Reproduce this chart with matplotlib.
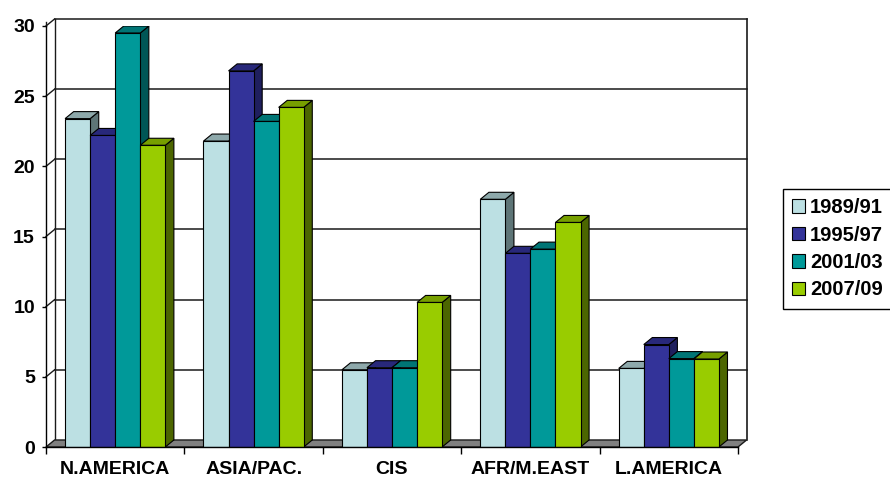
import matplotlib
matplotlib.use("Agg")
import matplotlib.pyplot as plt
from matplotlib.patches import Polygon, Patch
import numpy as np

plt.rcParams["font.family"] = ["Liberation Sans", "DejaVu Sans"]
plt.rcParams["font.weight"] = "bold"

regions = ["N.AMERICA", "ASIA/PAC.", "CIS", "AFR/M.EAST", "L.AMERICA"]
periods = ["1989/91", "1995/97", "2001/03", "2007/09"]
v_8991 = [23.4, 21.8, 5.5, 17.65, 5.6]
v_9597 = [22.2, 26.8, 5.65, 13.8, 7.3]
v_0103 = [29.5, 23.2, 5.65, 14.1, 6.3]
v_0709 = [21.5, 24.2, 10.3, 16.0, 6.27]
yticks = [0, 5, 10, 15, 20, 25, 30]

# front / side / top shades for each series
FRONT = ["#bce0e3", "#333399", "#009999", "#99cc00"]
SIDE = ["#5e7577", "#1f1f5e", "#005656", "#4c6600"]
TOP = ["#8ea9ab", "#28287a", "#007575", "#779f00"]

W = 0.181          # bar width (category units)
DX, DY = 0.062, 0.5  # depth offset in data units

fig = plt.figure(figsize=(8.9, 4.79), dpi=100)
ax = fig.add_axes([46 / 890, 32 / 479, 692 / 890, 421 / 479])
ax.set_xlim(-0.5, 4.5)
ax.set_ylim(0, 30)
for s in ["top", "right"]:
    ax.spines[s].set_visible(False)
for s in ["left", "bottom"]:
    ax.spines[s].set_linewidth(1.0)
    ax.spines[s].set_zorder(6)

LINE = "#1a1a1a"
x0, x1 = -0.5, 4.5
# back wall frame + gridlines, side-wall diagonals
for v in yticks[1:]:
    ax.plot([x0 + DX, x1 + DX], [v + DY, v + DY], color=LINE, lw=1.1, zorder=0.5, clip_on=False)
    ax.plot([x0, x0 + DX], [v, v + DY], color=LINE, lw=1.0, zorder=0.5, clip_on=False)
ax.plot([x0 + DX, x0 + DX], [DY, 30 + DY], color=LINE, lw=1.0, zorder=0.5, clip_on=False)
ax.plot([x1 + DX, x1 + DX], [DY, 30 + DY], color=LINE, lw=1.2, zorder=0.5, clip_on=False)
ax.plot([x0, x0], [30, 30.25], color=LINE, lw=1.0, clip_on=False)

# floor
ax.add_patch(Polygon([(x0, 0), (x1, 0), (x1 + DX, DY), (x0 + DX, DY)], closed=True,
                     facecolor="#808080", edgecolor=LINE, lw=1.0, zorder=1, clip_on=False))

series = [v_8991, v_9597, v_0103, v_0709]
x = np.arange(len(regions))
for i in range(len(regions)):
    for j, vals in enumerate(series):
        h = vals[i]
        xl = x[i] + (j - 2) * W
        xr = xl + W
        z = 2 + i * 0.1 + j * 0.02
        ax.add_patch(Polygon([(xr, 0), (xr + DX, DY), (xr + DX, h + DY), (xr, h)], closed=True,
                             facecolor=SIDE[j], edgecolor="black", lw=0.8, zorder=z))
        ax.add_patch(Polygon([(xl, h), (xl + DX, h + DY), (xr + DX, h + DY), (xr, h)], closed=True,
                             facecolor=TOP[j], edgecolor="black", lw=0.8, zorder=z))
        ax.bar(xl, h, width=W, align="edge", color=FRONT[j], edgecolor="black", lw=0.8,
               zorder=z + 0.01)

ax.set_yticks(yticks)
ax.set_yticklabels([str(t) for t in yticks], fontsize=14, fontweight="bold")
ax.tick_params(axis="y", length=3, width=1, pad=5)
ax.set_xticks(x)
ax.set_xticklabels(regions, fontsize=14, fontweight="bold")
ax.set_xticks(np.arange(-0.5, 5, 1), minor=True)
ax.tick_params(axis="x", which="major", length=0, pad=10)
ax.tick_params(axis="x", which="minor", length=5, width=1)

handles = [Patch(facecolor=c, edgecolor="black", lw=0.8) for c in FRONT]
fig.legend(handles, periods, loc="upper left", bbox_to_anchor=(783 / 890, 1 - 189 / 479),
           frameon=True, fancybox=False, edgecolor="black", framealpha=1,
           prop={"size": 14.5, "weight": "bold"}, handlelength=0.65, handleheight=0.65,
           handletextpad=0.25, labelspacing=0.42, borderpad=0.45, borderaxespad=0)

fig.savefig("out.png", dpi=100, facecolor="white")
